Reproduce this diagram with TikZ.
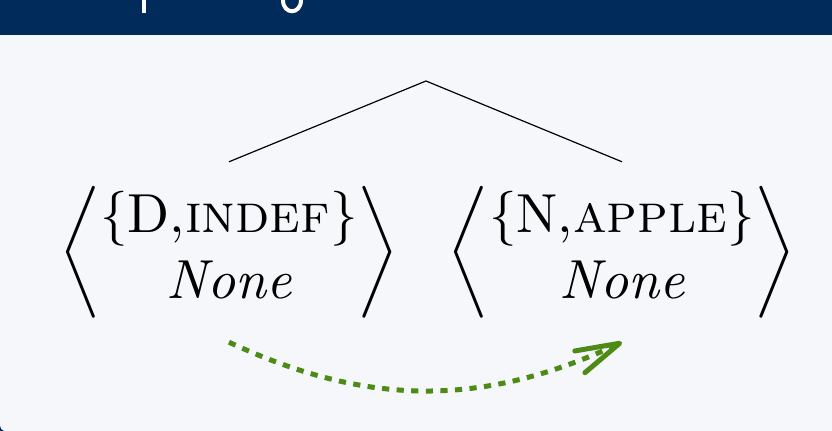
\documentclass[tikz,border=0pt]{standalone}
\usepackage{amsmath}
\usetikzlibrary{arrows.meta}
\definecolor{hdrblue}{RGB}{0,43,91}
\definecolor{bodybg}{RGB}{245,247,250}
\definecolor{arrgreen}{RGB}{78,138,22}
\tikzset{
  feat/.style={inner xsep=0pt, inner ysep=4.2pt, scale=2.75, transform shape},
  branch/.style={line width=0.6pt, black},
  movearrow/.style={arrgreen, line width=2.5pt, dash pattern=on 3.6pt off 3.7pt,
    -{Straight Barb[length=22pt,width=12pt,round]}}
}
\begin{document}
\begin{tikzpicture}[x=0.5pt,y=-0.5pt]
\useasboundingbox (0,0) rectangle (832,431);
% background
\fill[bodybg] (0,0) rectangle (832,431);
\fill[hdrblue] (0,0) rectangle (832,35);
\fill[hdrblue] (0,426) -- (0,431) -- (4,431) .. controls (1.5,430) and (0.5,429) .. (0,426) -- cycle;
% title fragments (descenders of the cut-off title)
\fill[white] (142,0) rectangle (146,13);
\draw[white, line width=2pt] (283,0) .. controls (283,15) and (301,15) .. (301,0);
% tree
\coordinate (root) at (426,81);
\node[feat] (d) at (229,252) {$\left\langle\begin{array}{@{}c@{}}\{\mathrm{D}{,}\textsc{indef}\}\\ \textit{None}\end{array}\right\rangle$};
\node[feat] (n) at (622,252) {$\left\langle\begin{array}{@{}c@{}}\{\mathrm{N}{,}\textsc{apple}\}\\ \textit{None}\end{array}\right\rangle$};
\draw[branch] (root) -- (d.north);
\draw[branch] (root) -- (n.north);
\draw[movearrow] (d.south) to[bend right=25] (n.south);
\end{tikzpicture}
\end{document}
